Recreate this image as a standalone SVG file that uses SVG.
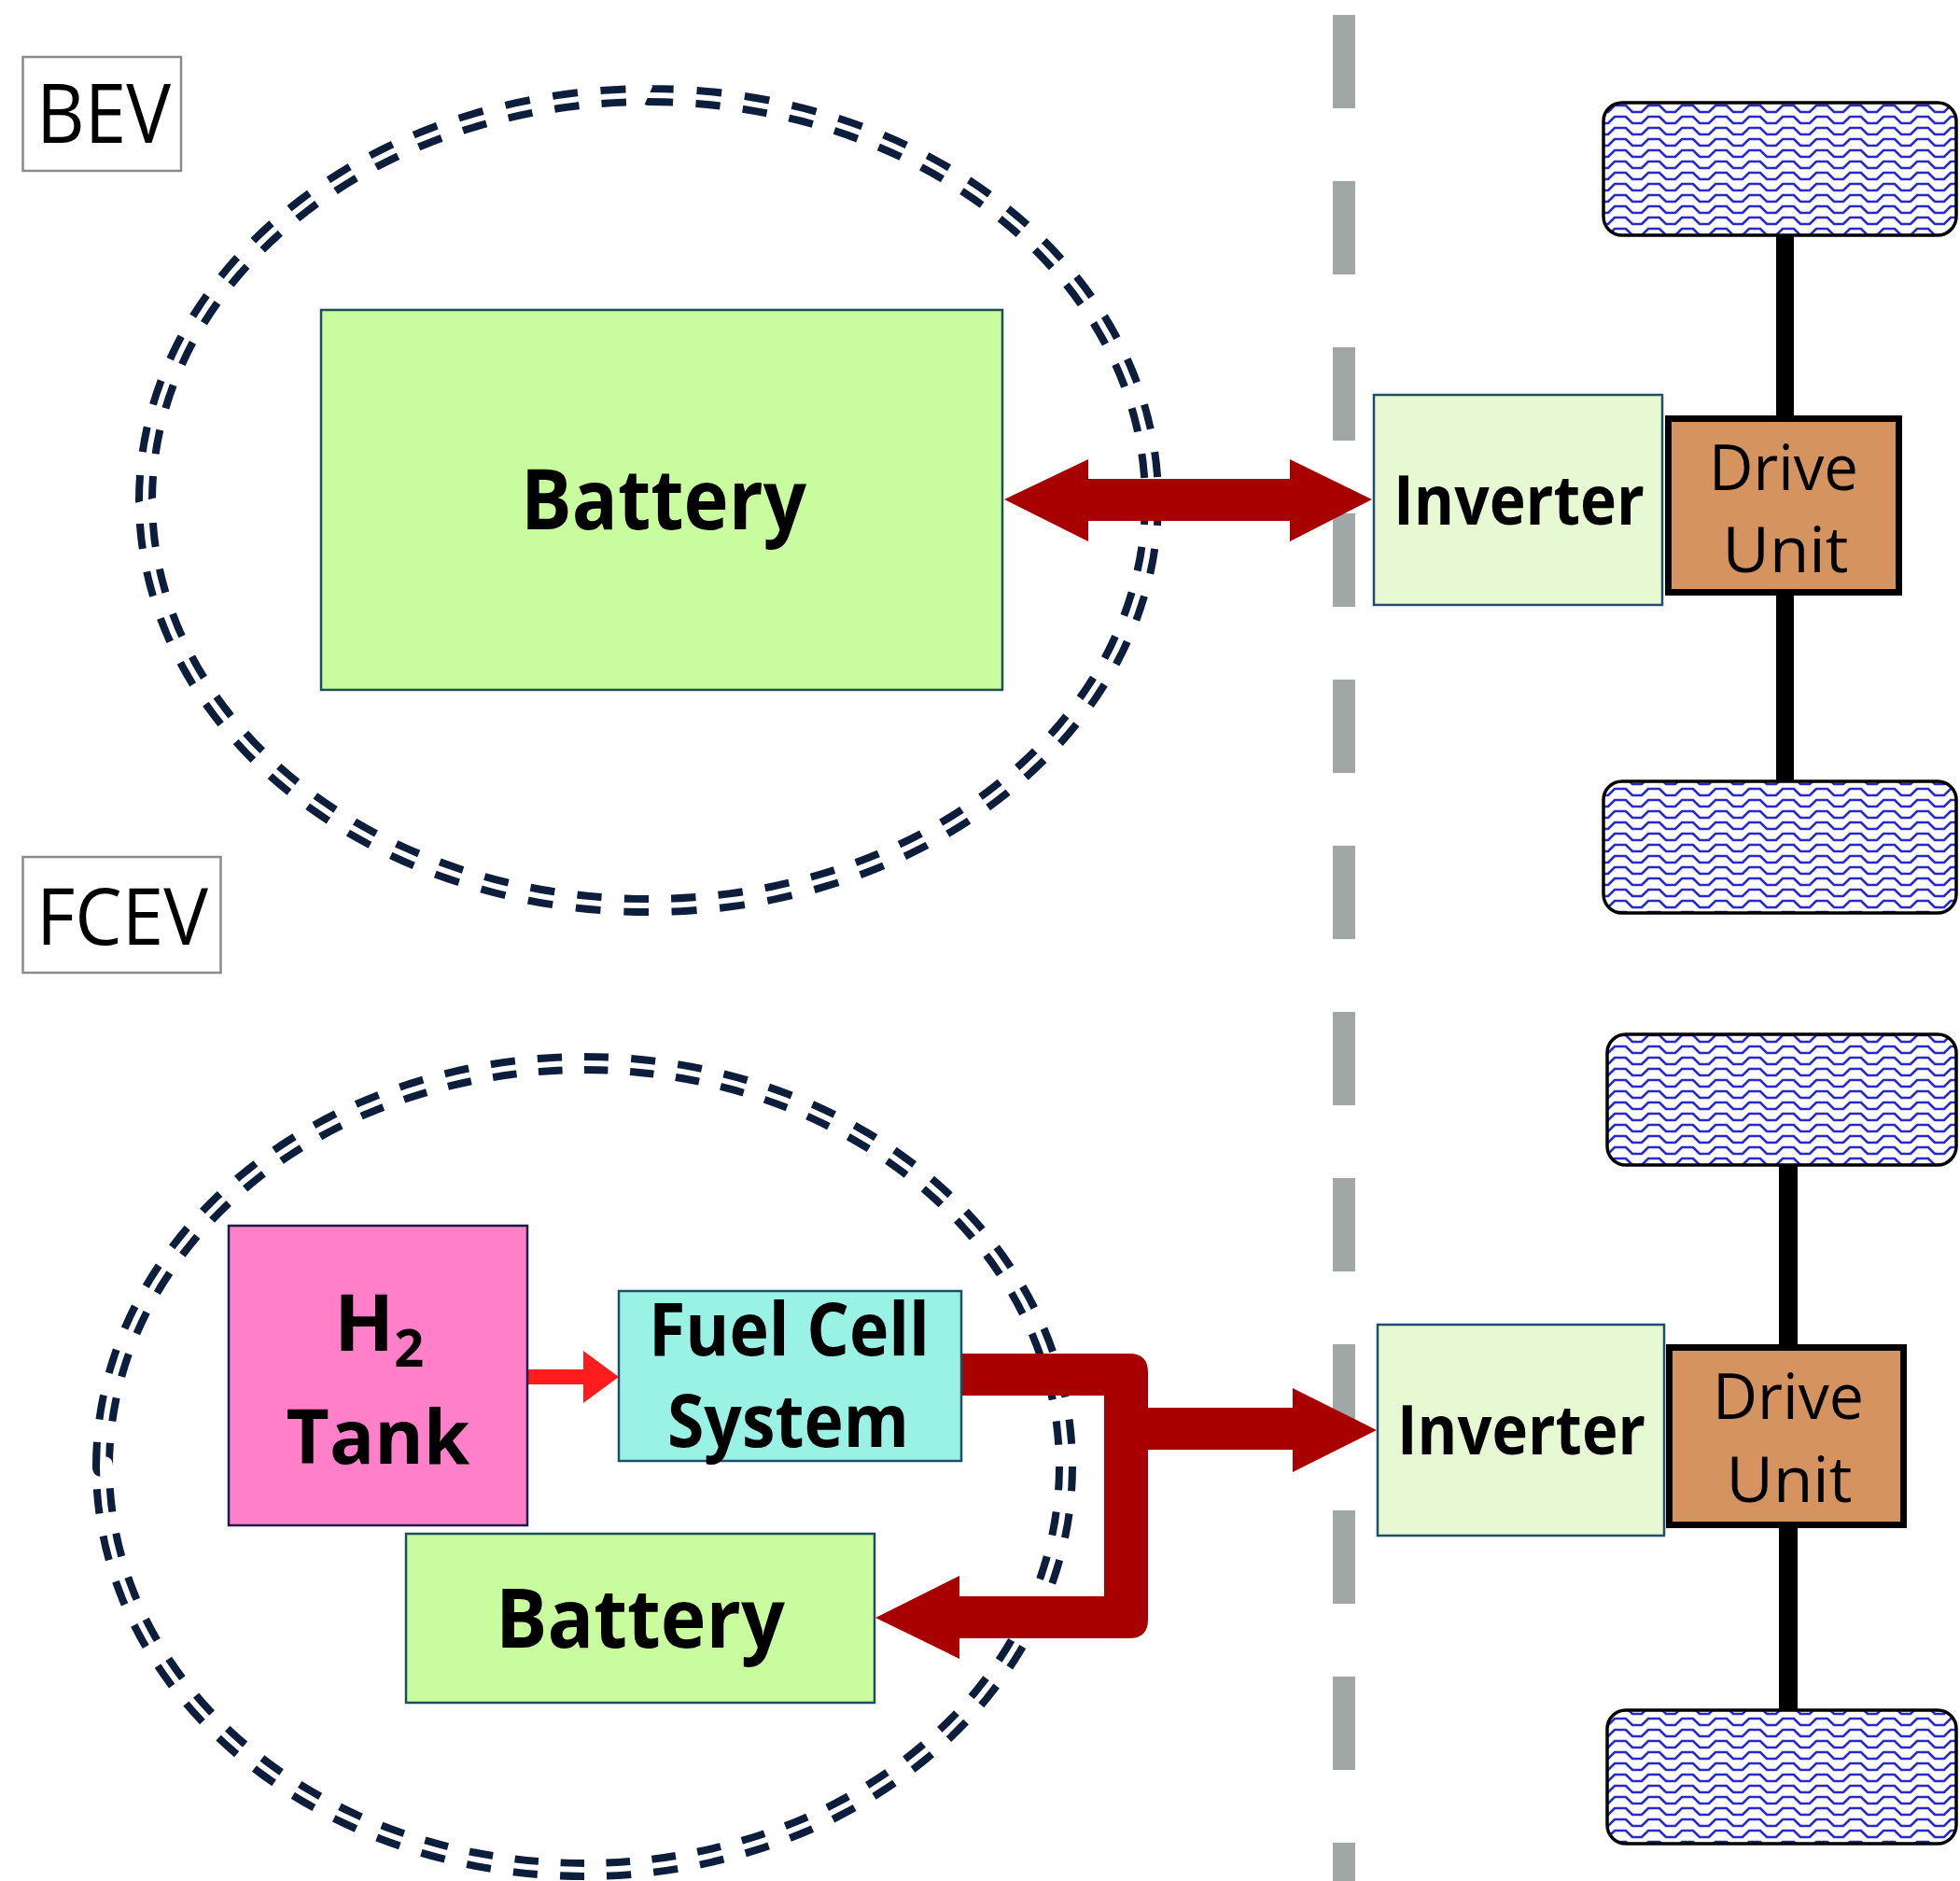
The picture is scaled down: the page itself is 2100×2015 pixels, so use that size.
<svg xmlns="http://www.w3.org/2000/svg" width="2100" height="2015" viewBox="0 0 2100 2015">
<style>
.t{font-family:"Open Sans","Noto Sans","DejaVu Sans",sans-serif;fill:#000}
.b{font-weight:bold}
.ring{fill:none;stroke:#0d1e3d;stroke-width:22;stroke-dasharray:26 24}
.ringgap{fill:none;stroke:#fff;stroke-width:6}
.tag{fill:#fff;stroke:#8a8a8a;stroke-width:2.5}
.wheel{fill:url(#wave);stroke:#000;stroke-width:3.5}
.axle{fill:#000}
.inv{fill:#e6f9d3;stroke:#1f4e6a;stroke-width:2.5}
.drv{fill:#d4935f;stroke:#000;stroke-width:7}
.bat{fill:#c9fb9f;stroke:#1f4e5a;stroke-width:2.5}
.big{fill:#a80000}
</style>
<defs>
<pattern id="wave" patternUnits="userSpaceOnUse" x="1718" y="110" width="36" height="12">
<rect width="36" height="12" fill="#fff"/>
<path d="M-2 10 L5 10 L12 3 L24 3 L31 10 L38 10" fill="none" stroke="#2a2ac8" stroke-width="2.7"/>
</pattern>
</defs>
<rect width="2100" height="2015" fill="#fff"/>

<g id="bev-ring">
<ellipse class="ring" cx="695" cy="536" rx="539" ry="434" pathLength="3000"/>
<ellipse class="ringgap" cx="695" cy="536" rx="539" ry="434"/>
</g>
<g id="fcev-ring">
<ellipse class="ring" cx="626" cy="1571" rx="516" ry="432" pathLength="3000"/>
<ellipse class="ringgap" cx="626" cy="1571" rx="516" ry="432"/>
</g>

<g id="divider">
<line x1="1440" y1="16" x2="1440" y2="2015" stroke="#a3a6a6" stroke-width="24" stroke-dasharray="100 78"/>
</g>

<g id="bev-label">
<rect class="tag" x="24.5" y="61" width="169.5" height="122"/>
<text class="t" x="39" y="153" font-size="88" textLength="144" lengthAdjust="spacingAndGlyphs">BEV</text>
</g>
<g id="fcev-label">
<rect class="tag" x="24.5" y="918" width="212" height="124"/>
<text class="t" x="39" y="1012" font-size="84" textLength="184" lengthAdjust="spacingAndGlyphs">FCEV</text>
</g>

<g id="connectors">
<rect class="axle" x="1903" y="250" width="19" height="590"/>
<rect class="axle" x="1906" y="1246" width="20" height="590"/>
<path class="big" d="M1076 535 L1166 492 V513 H1382 V492 L1470 535 L1382 580 V558 H1166 V580 Z"/>
<path class="big" d="M1030 1450 H1210 Q1230 1450 1230 1470 V1508 H1385 V1487 L1475 1532 L1385 1577 V1553 H1230 V1735 Q1230 1755 1210 1755 H1028 V1777 L938 1733 L1028 1688 V1710 H1183 V1495 H1030 Z"/>
<path fill="#ff1c1c" d="M565 1467 H625 V1447 L663 1475 L625 1503 V1483 H565 Z"/>
</g>

<g id="bev-battery">
<rect class="bat" x="344" y="332" width="730" height="407"/>
<text class="t b" x="558" y="567" font-size="90" textLength="306" lengthAdjust="spacingAndGlyphs">Battery</text>
</g>

<g id="bev-wheel-top"><rect class="wheel" x="1718" y="110" width="378" height="142" rx="20"/></g>
<g id="bev-wheel-bottom"><rect class="wheel" x="1718" y="837" width="378" height="141" rx="20"/></g>
<g id="fcev-wheel-top"><rect class="wheel" x="1722" y="1108" width="374" height="140" rx="20"/></g>
<g id="fcev-wheel-bottom"><rect class="wheel" x="1722" y="1832" width="374" height="143" rx="20"/></g>

<g id="bev-inverter">
<rect class="inv" x="1472" y="423" width="309" height="225"/>
<text class="t b" x="1493" y="562" font-size="73" textLength="269" lengthAdjust="spacingAndGlyphs">Inverter</text>
</g>
<g id="bev-drive">
<rect class="drv" x="1787.5" y="448.5" width="247" height="186"/>
<text class="t" x="1911" y="525" font-size="68" text-anchor="middle" textLength="160" lengthAdjust="spacingAndGlyphs">Drive</text>
<text class="t" x="1913" y="613" font-size="68" text-anchor="middle" textLength="135" lengthAdjust="spacingAndGlyphs">Unit</text>
</g>

<g id="h2-tank">
<rect fill="#ff80c9" stroke="#1a1a4a" stroke-width="2.5" x="245" y="1313" width="320" height="321"/>
<text class="t b" x="358" y="1447" font-size="84">H<tspan dy="17" font-size="56">2</tspan></text>
<text class="t b" x="405" y="1568" text-anchor="middle" font-size="80">Tank</text>
</g>
<g id="fuel-cell">
<rect fill="#9af2e4" stroke="#1f4e6a" stroke-width="2.5" x="663" y="1383" width="367" height="182"/>
<text class="t b" x="695" y="1452" font-size="79" textLength="301" lengthAdjust="spacingAndGlyphs">Fuel Cell</text>
<text class="t b" x="715" y="1550" font-size="79" textLength="259" lengthAdjust="spacingAndGlyphs">System</text>
</g>
<g id="fcev-battery">
<rect class="bat" x="435" y="1643" width="502" height="181"/>
<text class="t b" x="531" y="1765" font-size="88" textLength="310" lengthAdjust="spacingAndGlyphs">Battery</text>
</g>
<g id="fcev-inverter">
<rect class="inv" x="1476" y="1419" width="307" height="226"/>
<text class="t b" x="1497" y="1558" font-size="73" textLength="266" lengthAdjust="spacingAndGlyphs">Inverter</text>
</g>
<g id="fcev-drive">
<rect class="drv" x="1788.5" y="1443.5" width="251" height="190"/>
<text class="t" x="1916" y="1520" font-size="68" text-anchor="middle" textLength="162" lengthAdjust="spacingAndGlyphs">Drive</text>
<text class="t" x="1917" y="1609" font-size="68" text-anchor="middle" textLength="135" lengthAdjust="spacingAndGlyphs">Unit</text>
</g>
</svg>
